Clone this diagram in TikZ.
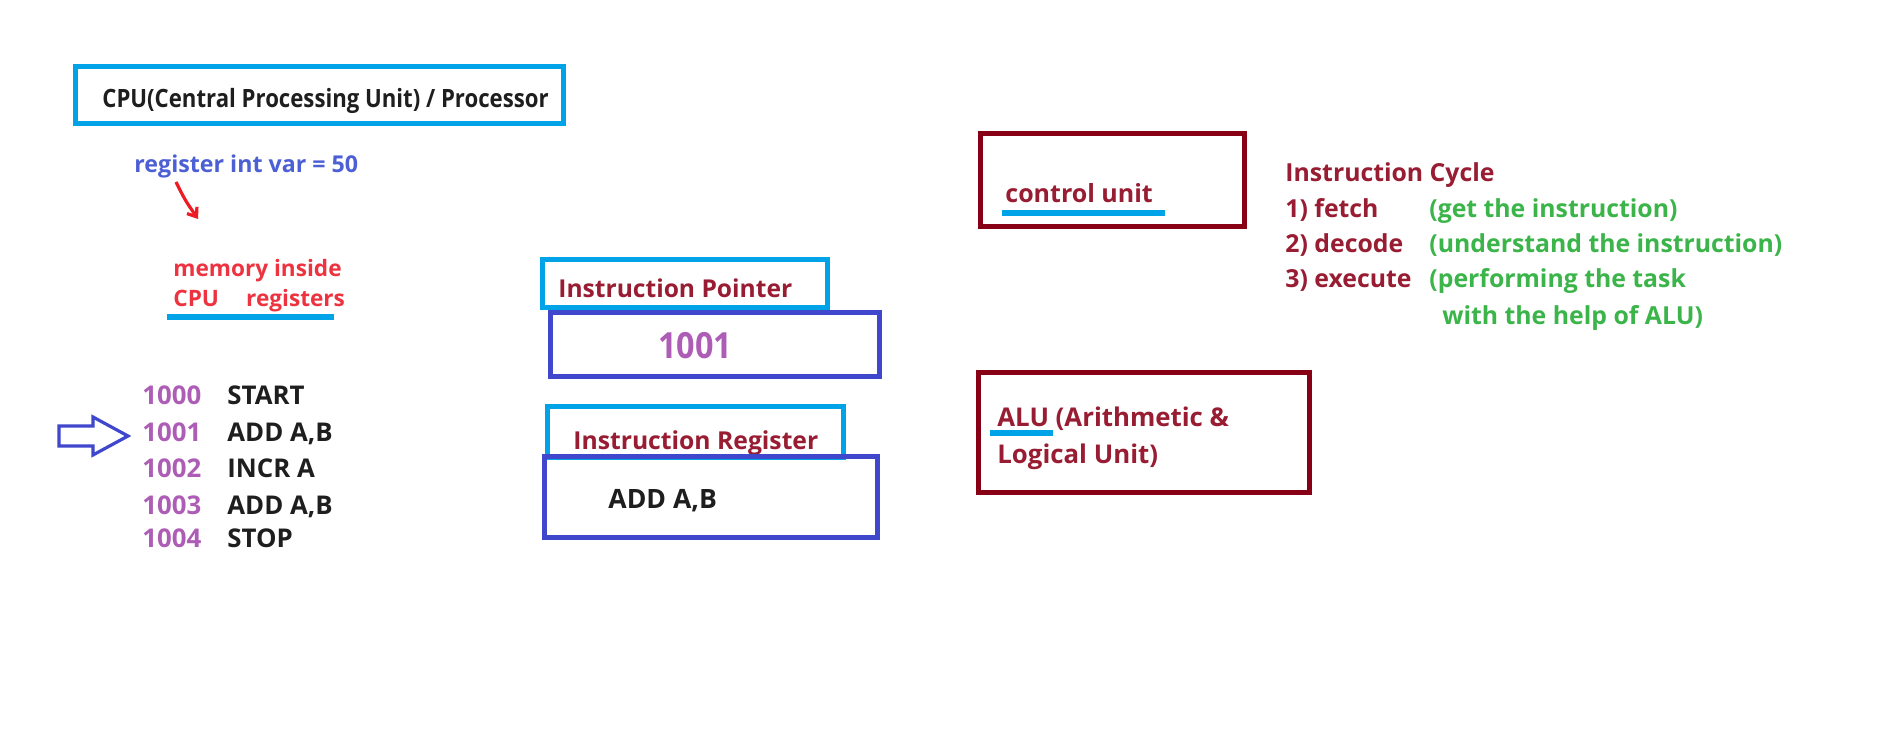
\documentclass[tikz,border=0pt]{standalone}
\usepackage{fontspec}
\setmainfont{Open Sans}
\usetikzlibrary{arrows.meta}
\definecolor{cyanb}{HTML}{00A2E8}
\definecolor{dred}{HTML}{880015}
\definecolor{tred}{HTML}{981C32}
\definecolor{indig}{HTML}{3F48CC}
\definecolor{purp}{HTML}{AD5DB5}
\definecolor{regblue}{HTML}{4C5FD5}
\definecolor{memred}{HTML}{EE3340}
\definecolor{arrred}{HTML}{ED1C24}
\definecolor{grn}{HTML}{3BB54A}
\definecolor{txt}{HTML}{1E1E1E}
\tikzset{
  x=0.5pt, y=-0.5pt,
  lbl/.style={anchor=base west, inner sep=0pt, font=\bfseries},
  boxc/.style={draw=cyanb, line width=2.5pt, inner sep=0pt},
  boxi/.style={draw=indig, line width=2.5pt, inner sep=0pt},
  boxr/.style={draw=dred, line width=2.5pt, inner sep=0pt},
  uline/.style={draw=cyanb, line width=3.3pt},
}
\newcommand{\fs}[1]{\fontsize{#1}{#1}\selectfont}
\begin{document}
\begin{tikzpicture}
\useasboundingbox[fill=white] (0,0) rectangle (1886,743);
% CPU title
\node[boxc, minimum width=244pt, minimum height=28.5pt] (cpu) at (319,95.5) {};
\node[lbl, text=txt, font=\bfseries\fs{12.6}\addfontfeatures{FakeStretch=0.88}] (cput) at (102,108) {CPU(Central Processing Unit) / Processor};
% register
\node[lbl, text=regblue, font=\bfseries\fs{11.6}] (reg) at (134,173) {register int var = 50};
\coordinate (ra) at (176,182);
\coordinate (rb) at (198,219);
\draw[arrred, line width=1.6pt, -{Straight Barb[length=4pt,width=6pt]}] (ra) .. controls (185,200) .. (rb);
\node[lbl, text=memred, font=\bfseries\fs{11.3}] (mem1) at (173,277) {memory inside};
\node[lbl, text=memred, font=\bfseries\fs{11.3}] (mem2) at (173,307) {CPU\hspace{1.2em}registers};
\coordinate (u1a) at (167,317); \coordinate (u1b) at (334,317);
\draw[uline] (u1a) -- (u1b);
% program
\foreach \n/\a/\i/\y in {p0/1000/START/405, p1/1001/{ADD A,B}/442, p2/1002/{INCR A}/477, p3/1003/{ADD A,B}/514, p4/1004/STOP/547}{
  \node[lbl, text=purp, font=\bfseries\fs{12.9}] (\n a) at (142,\y) {\a};
  \node[lbl, text=txt, font=\bfseries\fs{12.9}] (\n i) at (227,\y) {\i};
}
\draw[indig, line width=1.6pt, line join=miter] (59,426) -- (93,426) -- (93,417) -- (128,436) -- (93,455) -- (93,446) -- (59,446) -- cycle;
% Instruction pointer
\node[boxc, minimum width=142.5pt, minimum height=24pt] (ipb) at (684.5,284) {};
\node[lbl, text=tred, font=\bfseries\fs{12.3}] (ipt) at (558,298) {Instruction Pointer};
\node[boxi, minimum width=164.5pt, minimum height=32pt] (ipv) at (714.5,345) {};
\node[lbl, text=purp, font=\bfseries\fs{18}\addfontfeatures{FakeStretch=0.9}] (ipn) at (658,358) {1001};
% Instruction register
\node[boxc, minimum width=148pt, minimum height=25pt] (irb) at (695,432) {};
\node[lbl, text=tred, font=\bfseries\fs{12.35}] (irt) at (573,449) {Instruction Register};
\node[boxi, minimum width=166.5pt, minimum height=40.5pt] (irv) at (710.5,496.5) {};
\node[lbl, text=txt, font=\bfseries\fs{13.3}] (irn) at (608,508) {ADD A,B};
% control unit
\node[boxr, minimum width=132pt, minimum height=46.5pt] (cu) at (1112,180.5) {};
\node[lbl, text=tred, font=\bfseries\fs{12.5}] (cut) at (1005,203) {control unit};
\coordinate (u2a) at (1002,213); \coordinate (u2b) at (1165,213);
\draw[uline] (u2a) -- (u2b);
% ALU
\node[boxr, minimum width=165.5pt, minimum height=59.5pt] (alu) at (1143.5,432.5) {};
\node[lbl, text=tred, font=\bfseries\fs{12.9}] (alu1) at (997,427) {ALU (Arithmetic \&};
\node[lbl, text=tred, font=\bfseries\fs{12.9}] (alu2) at (997,463) {Logical Unit)};
\coordinate (u3a) at (990,433); \coordinate (u3b) at (1053,433);
\draw[uline] (u3a) -- (u3b);
% Instruction cycle
\node[lbl, text=tred, font=\bfseries\fs{12.4}] (ic) at (1285,182) {Instruction Cycle};
\node[lbl, text=tred, font=\bfseries\fs{12.4}] (ic1) at (1285,218) {1) fetch};
\node[lbl, text=tred, font=\bfseries\fs{12.4}] (ic2) at (1285,253) {2) decode};
\node[lbl, text=tred, font=\bfseries\fs{12.4}] (ic3) at (1285,288) {3) execute};
\node[lbl, text=grn, font=\bfseries\fs{12.4}] (g1) at (1429,218) {(get the instruction)};
\node[lbl, text=grn, font=\bfseries\fs{12.4}] (g2) at (1429,253) {(understand the instruction)};
\node[lbl, text=grn, font=\bfseries\fs{12.4}] (g3) at (1429,288) {(performing the task};
\node[lbl, text=grn, font=\bfseries\fs{12.4}] (g4) at (1442,325) {with the help of ALU)};
\end{tikzpicture}
\end{document}
